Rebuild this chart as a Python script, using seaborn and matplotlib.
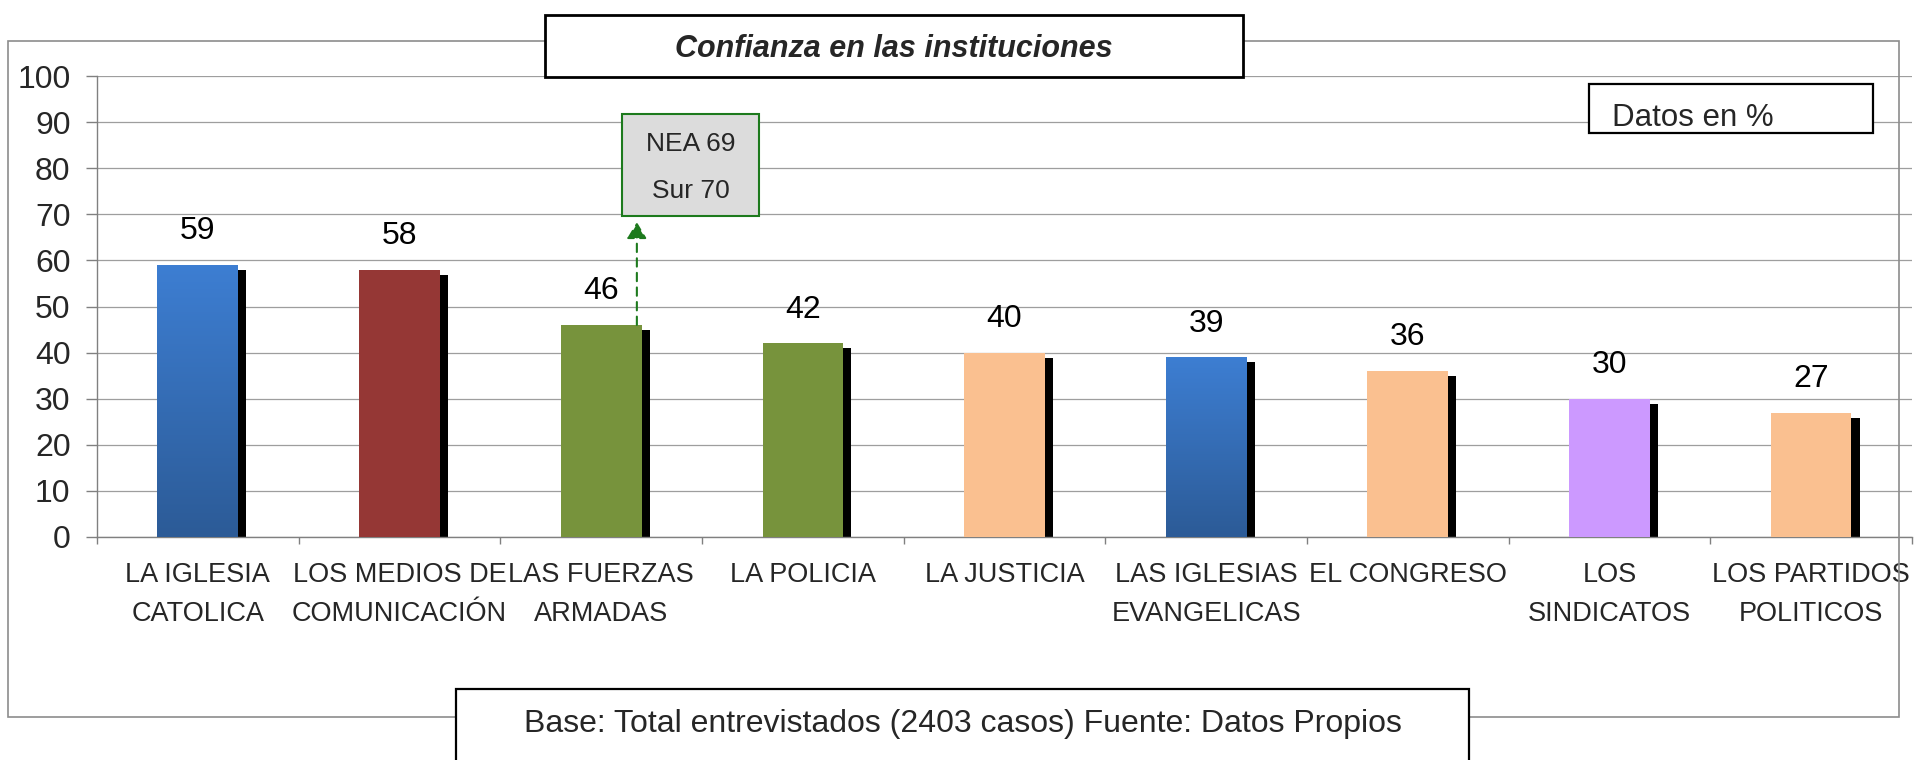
import numpy as np
import matplotlib
matplotlib.use("Agg")
import matplotlib.pyplot as plt
from matplotlib.patches import Rectangle
from matplotlib.colors import LinearSegmentedColormap
import seaborn as sns

# datos
categorias = ["LA IGLESIA\nCATOLICA", "LOS MEDIOS DE\nCOMUNICACIÓN", "LAS FUERZAS\nARMADAS",
              "LA POLICIA", "LA JUSTICIA", "LAS IGLESIAS\nEVANGELICAS", "EL CONGRESO",
              "LOS\nSINDICATOS", "LOS PARTIDOS\nPOLITICOS"]
valores = [59, 58, 46, 42, 40, 39, 36, 30, 27]
regiones = ["NEA", "Sur"]
regiones_val = [69, 70]
titulo = "Confianza en las instituciones"
nota_datos = "Datos en %"
fuente = "Base: Total entrevistados (2403 casos) Fuente: Datos Propios"

# estilo
colores = ["#3a78c8", "#953735", "#77933c", "#77933c", "#fac090",
           "#3a78c8", "#fac090", "#cc99ff", "#fac090"]
degradado = [True, False, False, False, False, True, False, False, False]
VERDE = "#1d7a1d"

W, H = 1916, 760
sns.set_theme(style="white")
plt.rcParams['font.family'] = ['Liberation Sans', 'DejaVu Sans']

fig = plt.figure(figsize=(W / 100, H / 100), dpi=100, facecolor="white")
ax = fig.add_axes([97 / W, 1 - 537 / H, (1912 - 97) / W, (537 - 76) / H])
ax.set_facecolor("none")

# barras principales
sns.barplot(x=categorias, y=valores, hue=categorias, palette=colores, width=0.4,
            saturation=1, legend=False, linewidth=0, ax=ax, zorder=3)
barras = sorted(ax.patches, key=lambda p: p.get_x())

# sombra negra detras de cada barra
ax.bar(np.arange(len(valores)) + 0.04, np.array(valores) - 1.1, width=0.4,
       color="black", linewidth=0, zorder=2)

# degradado azul
cmap_azul = LinearSegmentedColormap.from_list("azul", ["#2c5b97", "#3d7ed2"])
grad = np.linspace(0, 1, 128).reshape(-1, 1)
for p, g in zip(barras, degradado):
    if g:
        im = ax.imshow(grad, cmap=cmap_azul, origin="lower", aspect="auto",
                       extent=[p.get_x(), p.get_x() + p.get_width(), 0, p.get_height()],
                       zorder=3.5)
        im.set_clip_path(p)

# etiquetas de valor
for i, v in enumerate(valores):
    ax.annotate(str(v), xy=(i, v), xytext=(0, 18.5), textcoords="offset points",
                ha="center", va="baseline", fontsize=23, color="black")

# ejes
ax.set_xlim(-0.5, len(valores) - 0.5)
ax.set_ylim(0, 100)
ax.set_yticks(range(0, 101, 10))
ax.set_xticks(range(len(categorias)))
ax.set_xticklabels(categorias, fontsize=19.5, linespacing=1.65)
ax.set_xticks(np.arange(-0.5, len(categorias), 1), minor=True)
ax.tick_params(axis="x", which="major", bottom=True, length=0, pad=18)
ax.tick_params(axis="x", which="minor", bottom=True, length=5, color="#808080", width=1)
ax.tick_params(axis="y", left=True, length=8, color="#808080", width=1, pad=11, labelsize=23)
ax.yaxis.grid(True, color="#9e9e9e", lw=0.9)
ax.xaxis.grid(False)
ax.set_axisbelow(True)
for s in ["top", "right"]:
    ax.spines[s].set_visible(False)
for s in ["left", "bottom"]:
    ax.spines[s].set_color("#808080")
    ax.spines[s].set_linewidth(1)
ax.set_xlabel("")
ax.set_ylabel("")

# recuadro NEA / Sur con flecha
ax.add_patch(Rectangle((2.103, 69.6), 0.679, 22.2, facecolor="#dcdcdc",
                       edgecolor=VERDE, lw=1.5, zorder=5))
ax.text(2.4425, 83.7, f"{regiones[0]} {regiones_val[0]}", ha="center", va="baseline",
        fontsize=19, zorder=6)
ax.text(2.4425, 73.5, f"{regiones[1]} {regiones_val[1]}", ha="center", va="baseline",
        fontsize=19, zorder=6)
ax.annotate("", xy=(2.177, 68.3), xytext=(2.177, valores[2]),
            arrowprops=dict(arrowstyle="-|>,head_length=0.5,head_width=0.3",
                            mutation_scale=20, color=VERDE, lw=1.5,
                            linestyle=(0, (4, 3)), shrinkA=0, shrinkB=0),
            zorder=6)


# cajas a nivel de figura (coordenadas en pixeles)
def caja(x0, y0, x1, y1, **kw):
    fig.add_artist(Rectangle((x0 / W, 1 - y1 / H), (x1 - x0) / W, (y1 - y0) / H,
                             transform=fig.transFigure, **kw))


caja(8, 41, 1899, 717, fill=False, edgecolor="#8c8c8c", lw=1.2, zorder=4)
caja(545, 15, 1243, 77, facecolor="white", edgecolor="black", lw=2, zorder=5)
fig.text(894 / W, 1 - 57 / H, titulo, ha="center", va="baseline", fontsize=22,
         weight="bold", style="italic", zorder=6)
caja(1589, 84, 1873, 133, facecolor="white", edgecolor="black", lw=1.6, zorder=5)
fig.text(1612 / W, 1 - 126 / H, nota_datos, ha="left", va="baseline", fontsize=22.5, zorder=6)
caja(456, 689, 1469, 800, facecolor="white", edgecolor="black", lw=1.6, zorder=5)
fig.text(963 / W, 1 - 732 / H, fuente, ha="center", va="baseline", fontsize=23, zorder=6)

fig.savefig("out.png", dpi=100, facecolor="white")
